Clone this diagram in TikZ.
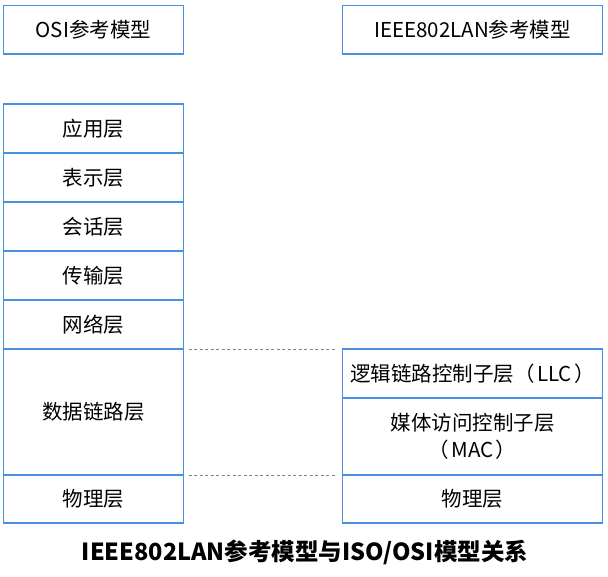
\documentclass[tikz,border=0pt]{standalone}
\usepackage{fontspec}
\setmainfont{Noto Sans CJK SC}
\definecolor{boxblue}{RGB}{74,144,226}
\definecolor{dashgray}{RGB}{130,130,130}
\begin{document}
\begin{tikzpicture}[x=1pt,y=-1pt,
  layer/.style={draw=boxblue,line width=1.2pt,font=\fontsize{20.5}{25}\selectfont,align=center,
    inner sep=0pt,outer sep=0pt},
  osicell/.style={layer,minimum width=180pt},
  lancell/.style={layer,minimum width=260pt},
  sep/.style={draw=dashgray,dash pattern=on 3pt off 2.5pt,line width=0.6pt}]
\useasboundingbox (0,0) rectangle (608,576);
% left column
\node[osicell,minimum height=48.5pt] (osit) at (93.5,29.75) {OSI参考模型};
\node[osicell,minimum height=49pt] (app) at (93.5,128.5) {应用层};
\node[osicell,minimum height=49pt] (pres) at (93.5,177.5) {表示层};
\node[osicell,minimum height=49pt] (sess) at (93.5,226.5) {会话层};
\node[osicell,minimum height=49pt] (trans) at (93.5,275.5) {传输层};
\node[osicell,minimum height=49pt] (net) at (93.5,324.5) {网络层};
\node[osicell,minimum height=126pt] (dl) at (93.5,412) {数据链路层};
\node[osicell,minimum height=48pt] (phy) at (93.5,499) {物理层};
% right column
\node[lancell,minimum height=48.5pt] (ieeet) at (472.5,29.75) {IEEE802LAN参考模型};
\node[lancell,minimum height=49pt] (llc) at (472.5,373.5) {逻辑链路控制子层（\hspace{0.12em}LLC\hspace{0.12em}）};
\node[lancell,minimum height=77pt] (mac) at (472.5,436.5) {媒体访问控制子层\\[2pt]（\hspace{0.12em}MAC\hspace{0.12em}）};
\node[lancell,minimum height=48pt] (phy2) at (472.5,499) {物理层};
% dashed connectors
\coordinate (d1a) at ([xshift=5pt]dl.north east);
\coordinate (d1b) at ([xshift=-7pt]llc.north west);
\coordinate (d2a) at ([xshift=5pt]phy.north east);
\coordinate (d2b) at ([xshift=-7pt]phy2.north west);
\draw[sep] (d1a) -- (d1b);
\draw[sep] (d2a) -- (d2b);
% title
\node[font=\bfseries\fontsize{23.5}{28}\selectfont] (title) at (305,552) {IEEE802LAN参考模型与ISO/OSI模型关系};
\end{tikzpicture}
\end{document}
